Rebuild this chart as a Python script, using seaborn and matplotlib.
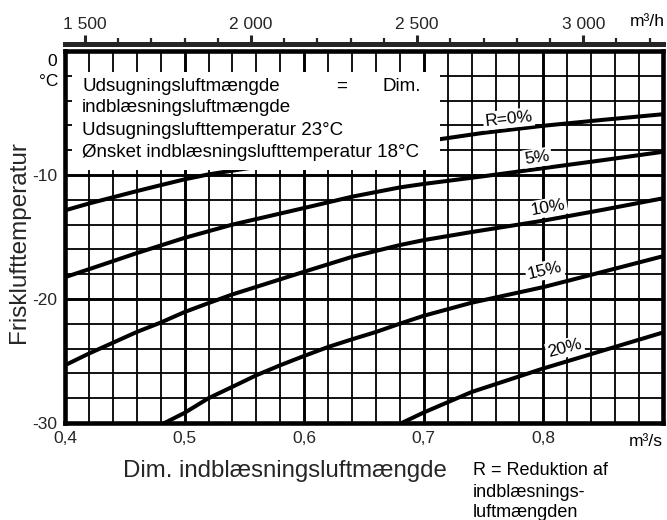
import matplotlib
matplotlib.use("Agg")
import matplotlib.pyplot as plt
import numpy as np
import pandas as pd
import seaborn as sns
from matplotlib.ticker import MultipleLocator
from matplotlib.patches import Rectangle

# ---------------- data ----------------
curve_names = ["R=0%", "5%", "10%", "15%", "20%"]

x_r0 = [0.40, 0.42, 0.44, 0.46, 0.48, 0.50, 0.52, 0.55, 0.60, 0.65, 0.70, 0.75, 0.80, 0.85, 0.90]
y_r0 = [-12.85, -12.3, -11.8, -11.3, -10.82, -10.35, -9.95, -9.5, -8.75, -8.05, -7.3, -6.6, -6.03, -5.55, -5.1]

x_r5 = [0.40, 0.42, 0.46, 0.50, 0.54, 0.60, 0.64, 0.68, 0.70, 0.75, 0.80, 0.85, 0.90]
y_r5 = [-18.24, -17.6, -16.3, -15.07, -14.0, -12.66, -11.75, -11.0, -10.72, -10.1, -9.45, -8.8, -8.13]

x_r10 = [0.40, 0.42, 0.46, 0.48, 0.50, 0.52, 0.54, 0.60, 0.64, 0.68, 0.70, 0.74, 0.80, 0.85, 0.90]
y_r10 = [-25.34, -24.4, -22.66, -21.9, -21.05, -20.33, -19.63, -17.8, -16.6, -15.65, -15.25, -14.6, -13.68, -12.8, -11.88]

x_r15 = [0.475, 0.50, 0.52, 0.54, 0.56, 0.58, 0.60, 0.62, 0.64, 0.66, 0.68, 0.70, 0.74, 0.80, 0.85, 0.90]
y_r15 = [-30.4, -29.18, -28.0, -27.08, -26.15, -25.34, -24.59, -23.87, -23.25, -22.66, -21.99, -21.35, -20.3, -19.04, -17.8, -16.55]

x_r20 = [0.675, 0.70, 0.74, 0.80, 0.85, 0.90]
y_r20 = [-30.3, -29.15, -27.5, -25.6, -24.15, -22.7]

x_ticks = [0.4, 0.5, 0.6, 0.7, 0.8]
x_tick_labels = ["0,4", "0,5", "0,6", "0,7", "0,8"]
y_ticks = [-10, -20, -30]
y_tick_labels = ["-10", "-20", "-30"]
top_ticks = [1500, 2000, 2500, 3000]
top_tick_labels = ["1 500", "2 000", "2 500", "3 000"]

# curve label anchor points (data coords) and rotations
label_x = [0.771, 0.795, 0.804, 0.801, 0.818]
label_y = [-5.47, -8.6, -12.63, -17.7, -23.97]
label_rot = [6, 8, 10, 13, 15]

info_lines = ["indblæsningsluftmængde",
              "Udsugningslufttemperatur 23°C",
              "Ønsket indblæsningslufttemperatur 18°C"]
note_lines = ["R = Reduktion af", "indblæsnings-", "luftmængden"]

# ---------------- figure ----------------
sns.set_style("white")
plt.rcParams["font.family"] = ["Liberation Sans", "DejaVu Sans"]
plt.rcParams["text.color"] = "black"

W, H = 667, 520
fig = plt.figure(figsize=(W / 100, H / 100), dpi=100)
L, R, T, B = 65, 663, 51, 423
ax = fig.add_axes([L / W, 1 - B / H, (R - L) / W, (B - T) / H])

frames = []
for name, xs, ys in zip(curve_names,
                        [x_r0, x_r5, x_r10, x_r15, x_r20],
                        [y_r0, y_r5, y_r10, y_r15, y_r20]):
    frames.append(pd.DataFrame({"x": xs, "y": ys, "R": name}))
df = pd.concat(frames, ignore_index=True)

sns.lineplot(data=df, x="x", y="y", hue="R",
             palette={n: "black" for n in curve_names},
             legend=False, linewidth=2.9, estimator=None, sort=True,
             ax=ax, zorder=2)

ax.set_xlim(0.4, 0.9)
ax.set_ylim(-30, 0)
ax.set_xticks(x_ticks, x_tick_labels)
ax.set_yticks(y_ticks, y_tick_labels)
ax.xaxis.set_minor_locator(MultipleLocator(0.02))
ax.yaxis.set_minor_locator(MultipleLocator(2))
ax.set_axisbelow(True)
ax.grid(True, which="major", color="black", linewidth=2.1)
ax.grid(True, which="minor", color="black", linewidth=1.3)
ax.tick_params(axis="both", which="both", length=0, labelsize=12.5)
ax.tick_params(axis="x", pad=6)
ax.tick_params(axis="y", pad=5.5)

for sp in ax.spines.values():
    sp.set_visible(True)
    sp.set_linewidth(3.3)
    sp.set_color("black")
    sp.set_zorder(6)

# extra y-axis labels
ax.text(-0.0134, (B - 61) / (B - T), "0", transform=ax.transAxes,
        ha="right", va="center", fontsize=12.5)
ax.text(-0.0117, (B - 82) / (B - T), "°C", transform=ax.transAxes,
        ha="right", va="center", fontsize=12.5)
ax.text(1.0, (B - 442) / (B - T), "m³/s", transform=ax.transAxes,
        ha="right", va="center", fontsize=12.5)

# top secondary axis m3/h
secax = ax.secondary_xaxis("top", functions=(lambda v: v * 3600, lambda v: v / 3600))
secax.set_xticks(top_ticks, top_tick_labels)
secax.xaxis.set_minor_locator(MultipleLocator(100))
secax.spines["top"].set_position(("outward", 5))
secax.spines["top"].set_linewidth(3.6)
secax.tick_params(which="major", direction="out", length=6.5, width=2.2, pad=2, labelsize=12.5)
secax.tick_params(which="minor", direction="out", length=4.3, width=1.6)
fig.text(665 / W, 1 - 22 / H, "m³/h", ha="right", va="center", fontsize=12.5)

# white info box
bx0, bx1 = (72 - L) / (R - L), (440 - L) / (R - L)
by0, by1 = (B - 170) / (B - T), (B - 72) / (B - T)
ax.add_patch(Rectangle((bx0, by0), bx1 - bx0, by1 - by0, transform=ax.transAxes,
                       facecolor="white", edgecolor="none", zorder=3))
tx = (82 - L) / (R - L)
bases = [91, 112, 135, 157]
ax.text(tx, (B - bases[0]) / (B - T), "Udsugningsluftmængde", transform=ax.transAxes,
        ha="left", va="baseline", fontsize=13.5, zorder=4)
ax.text((342 - L) / (R - L), (B - bases[0]) / (B - T), "=", transform=ax.transAxes,
        ha="center", va="baseline", fontsize=13.5, zorder=4)
ax.text((421 - L) / (R - L), (B - bases[0]) / (B - T), "Dim.", transform=ax.transAxes,
        ha="right", va="baseline", fontsize=13.5, zorder=4)
for line, bl in zip(info_lines, bases[1:]):
    ax.text(tx, (B - bl) / (B - T), line, transform=ax.transAxes,
            ha="left", va="baseline", fontsize=13.5, zorder=4)

# curve labels
for name, lx, ly, rot in zip(curve_names, label_x, label_y, label_rot):
    ax.text(lx, ly, name, rotation=rot, rotation_mode="anchor",
            ha="center", va="center", fontsize=12.5, zorder=4,
            bbox=dict(facecolor="white", edgecolor="none", pad=1.2))

# axis labels
ax.set_xlabel("Dim. indblæsningsluftmængde", fontsize=17.3, ha="left", va="baseline")
ax.xaxis.set_label_coords((123 - L) / (R - L), (B - 477) / (B - T))
ax.set_ylabel("Frisklufttemperatur", fontsize=17.5, ha="left", va="baseline",
              rotation=90, rotation_mode="anchor")
ax.yaxis.set_label_coords((25 - L) / (R - L), (B - 343) / (B - T))

# note text
nx = (473 - L) / (R - L)
for line, bl in zip(note_lines, [475, 497, 517]):
    ax.text(nx, (B - bl) / (B - T), line, transform=ax.transAxes,
            ha="left", va="baseline", fontsize=13, clip_on=False)

fig.savefig("out.png", dpi=100)
